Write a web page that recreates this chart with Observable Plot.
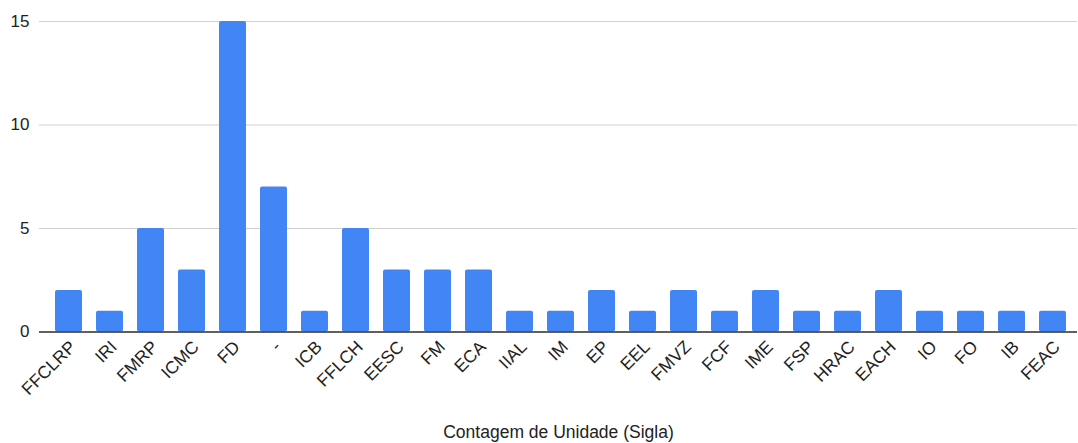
<!DOCTYPE html>
<html>
<head>
<meta charset="utf-8">
<script src="https://cdn.jsdelivr.net/npm/d3@7"></script>
<script src="https://cdn.jsdelivr.net/npm/@observablehq/plot@0.6"></script>
<style>
  html, body { margin: 0; padding: 0; background: #fff; }
</style>
</head>
<body>
<div id="chart"></div>
<script>
const categories = ["FFCLRP", "IRI", "FMRP", "ICMC", "FD", "-", "ICB", "FFLCH", "EESC", "FM", "ECA", "IIAL", "IM", "EP", "EEL", "FMVZ", "FCF", "IME", "FSP", "HRAC", "EACH", "IO", "FO", "IB", "FEAC"];
const counts = [2, 1, 5, 3, 15, 7, 1, 5, 3, 3, 3, 1, 1, 2, 1, 2, 1, 2, 1, 1, 2, 1, 1, 1, 1];
const yTicks = [0, 5, 10, 15];
const xTitle = "Contagem de Unidade (Sigla)";

const data = categories.map((c, i) => ({ unit: c, count: counts[i] }));

const chart = Plot.plot({
  width: 1078,
  height: 443,
  marginLeft: 39,
  marginRight: 1,
  marginTop: 21,
  marginBottom: 111.5,
  style: { fontFamily: "'Liberation Sans', Arial, sans-serif", fontSize: "17px", color: "#222", background: "#fff" },
  x: { domain: categories, paddingInner: 0.33, paddingOuter: 0.29, align: 0.6 },
  y: { domain: [0, 15] },
  marks: [
    Plot.gridY(yTicks, { stroke: "#d0d0d0", strokeOpacity: 1 }),
    Plot.barY(data, { x: "unit", y: "count", fill: "#4285f4", rx: 2 }),
    Plot.ruleY([0], { stroke: "#333", strokeWidth: 1.5 }),
    Plot.axisY({ ticks: yTicks, tickSize: 0, tickPadding: 10, label: null, fontSize: 17 }),
    Plot.axisX({ tickSize: 0, tickRotate: -45, tickPadding: 12, dx: 4, fontSize: 17.5, label: null }),
    Plot.axisX({ ticks: [], tickSize: 0, fontSize: 17.5, label: xTitle, labelAnchor: "center", labelOffset: 106, labelArrow: "none" })
  ]
});
document.getElementById("chart").appendChild(chart);
</script>
</body>
</html>
